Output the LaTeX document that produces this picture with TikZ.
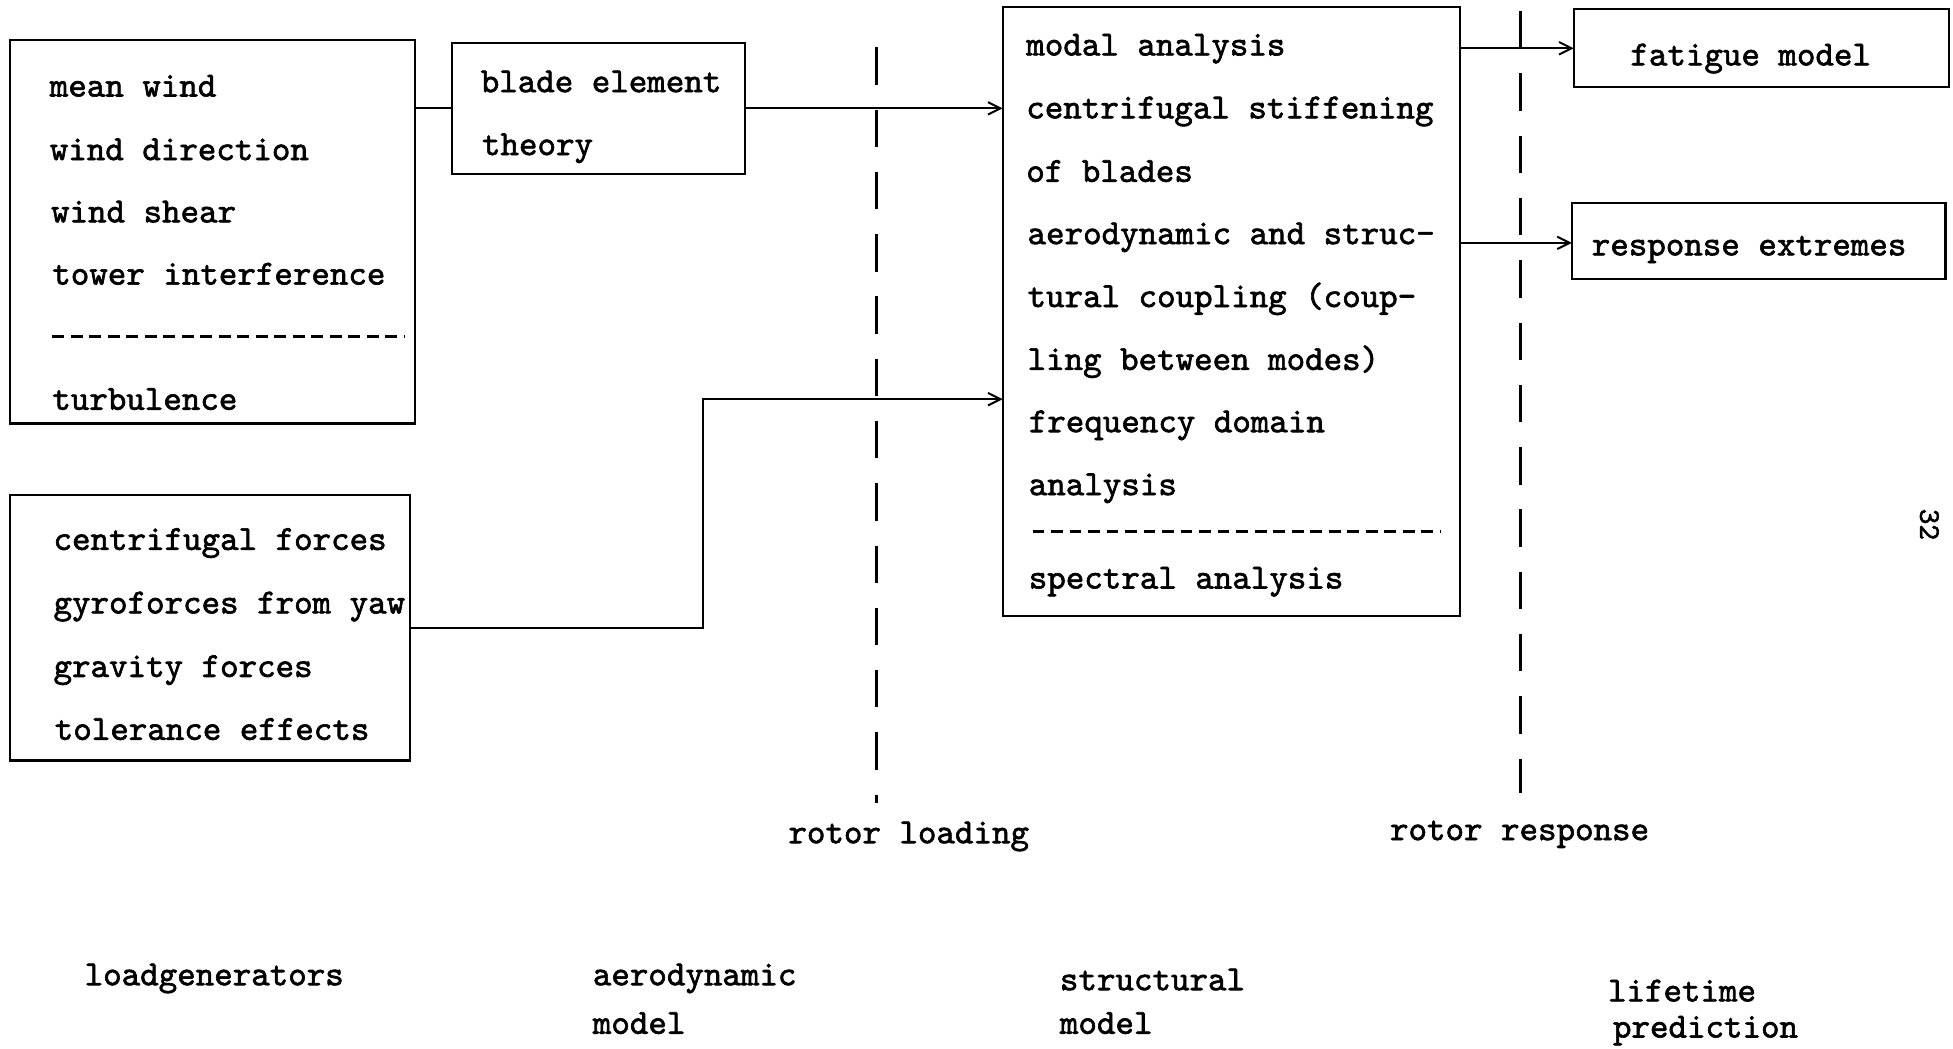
\documentclass[tikz,border=0pt]{standalone}
\usepackage{fontspec}
\newfontfamily\tw{lmmono10-regular.otf}[FakeBold=1.8]
\usetikzlibrary{arrows.meta}
\begin{document}
\begin{tikzpicture}[x=1pt,y=-1pt,
  box/.style={draw, line width=1.8pt, inner sep=0pt, outer sep=0pt},
  txt/.style={anchor=base west, inner sep=0pt, outer sep=0pt, font=\tw\fontsize{28.3}{34}\selectfont},
  arr/.style={line width=1.8pt, -{Straight Barb[length=10pt,width=10pt,line width=1.6pt]}},
  conn/.style={line width=1.8pt},
  sep/.style={line width=2.4pt, dash pattern=on 9.5pt off 5.36pt},
  divider/.style={line width=2.4pt, dash pattern=on 30pt off 20pt}]
\useasboundingbox (0,0) rectangle (1568,842);

% boxes
\node[box, minimum width=325pt, minimum height=308pt] (A) at (170.5,186) {};
\node[box, minimum width=235pt, minimum height=105pt] (B) at (480.5,87) {};
\node[box, minimum width=321pt, minimum height=213pt] (C) at (168.5,504) {};
\node[box, minimum width=367pt, minimum height=489pt] (D) at (988.5,250) {};
\node[box, minimum width=301.5pt, minimum height=62.5pt] (E) at (1414.25,38.75) {};
\node[box, minimum width=300pt, minimum height=61pt] (F) at (1412,193.5) {};

% box A text
\node[txt] (a1) at (40,77.5) {mean wind};
\node[txt] (a2) at (40,128.5) {wind direction};
\node[txt] (a3) at (41,178.5) {wind shear};
\node[txt] (a4) at (42,228.5) {tower interference};
\node[txt] (a5) at (42,329) {turbulence};
\draw[sep] (42,270.5) -- (325,270.5);

% box B text
\node[txt] (b1) at (386,74) {blade element};
\node[txt] (b2) at (387,124.5) {theory};

% box C text
\node[txt] (c1) at (43,441.5) {centrifugal forces};
\node[txt] (c2) at (43,492.5) {gyroforces from yaw};
\node[txt] (c3) at (43,543.5) {gravity forces};
\node[txt] (c4) at (44,594) {tolerance effects};

% box D text
\node[txt] (d1) at (824,44.5) {modal analysis};
\node[txt] (d2) at (824,95) {centrifugal stiffening};
\node[txt] (d3) at (824,146) {of blades};
\node[txt] (d4) at (825,196) {aerodynamic and struc-};
\node[txt] (d5) at (825,246.5) {tural coupling (coup-};
\node[txt] (d6) at (825,297) {ling between modes)};
\node[txt] (d7) at (826,347) {frequency domain};
\node[txt] (d8) at (826,397.5) {analysis};
\node[txt] (d9) at (826,472.5) {spectral analysis};
\draw[sep] (829,427) -- (1156,427);

% boxes E, F text
\node[txt] (e1) at (1309,52.5) {fatigue model};
\node[txt] (f1) at (1278,205) {response extremes};

% connectors
\draw[conn] (A.east |- B.west) -- (B.west);
\draw[arr] (B.east) -- (B.east -| D.west);
\coordinate (cr) at (564.5,320.5);
\draw[arr] (C.east) -| (cr) -- (cr -| D.west);
\draw[arr] (E.west -| D.east) -- (E.west);
\draw[arr] ([yshift=-1.5pt]F.west -| D.east) -- ([yshift=-1.5pt]F.west);

% dividers
\coordinate (l1t) at (704,38);
\coordinate (l1b) at (704,645);
\coordinate (l2t) at (1221,9);
\coordinate (l2b) at (1221,637);
\draw[divider] (l1t) -- (l1b);
\draw[divider] (l2t) -- (l2b);

% labels
\node[txt] (rl) at (633,677) {rotor loading};
\node[txt] (rr) at (1116,674.5) {rotor response};
\node[txt] (g1) at (68,791) {loadgenerators};
\node[txt] (g2) at (476,791) {aerodynamic};
\node[txt] (g3) at (476,830) {model};
\node[txt] (g4) at (851,795) {structural};
\node[txt] (g5) at (851,830) {model};
\node[txt] (g6) at (1291,804) {lifetime};
\node[txt] (g7) at (1295,833) {prediction};
\node[inner sep=0pt, rotate=-90, font=\tw\fontsize{24}{28}\selectfont] (pg) at (1549,421) {32};
\end{tikzpicture}
\end{document}
